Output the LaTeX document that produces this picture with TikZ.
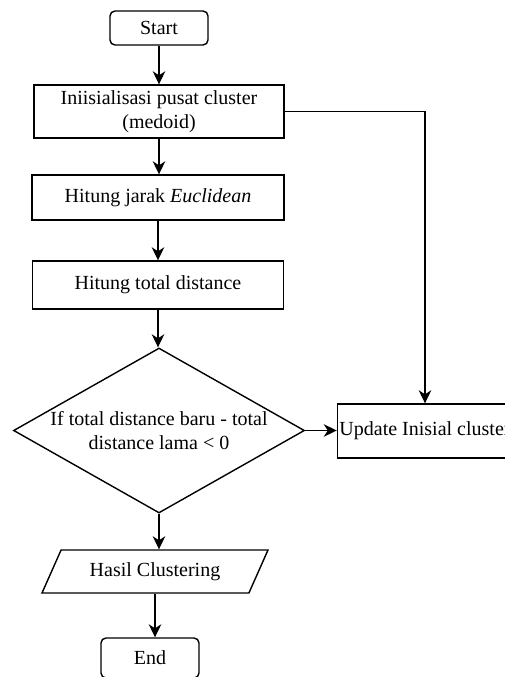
\documentclass[tikz,border=0pt]{standalone}
\usepackage{fontspec}
\setmainfont{Liberation Serif}
\usetikzlibrary{positioning,shapes.geometric,shapes.misc,arrows.meta}

\begin{document}
\begin{tikzpicture}[->,>={Stealth[length=13pt,width=12.5pt,inset=4pt]},x=1pt,y=-1pt,
  line width=1.4pt,
  every node/.style={font=\fontsize{20}{24.5}\selectfont},
  proc node/.style={rectangle,draw,align=center,minimum width=250pt,minimum height=48pt,inner sep=2pt},
  term node/.style={rectangle,rounded corners=5pt,draw,minimum width=98pt,minimum height=34pt},
  cond node/.style={diamond,draw,aspect=1.76,inner sep=0pt,align=center,minimum width=291pt,minimum height=165pt},
  io node/.style={trapezium,draw,trapezium left angle=52.5,trapezium right angle=127.5,
    trapezium stretches body,minimum width=226pt,minimum height=43pt}]

\useasboundingbox (0,0) rectangle (504,677);

\node[term node] (S) at (159,28) {Start};
\node[proc node,minimum height=53pt] (I) at (159,111.5) {Iniisialisasi pusat cluster\\(medoid)};
\node[proc node,minimum width=252pt,minimum height=45pt] (J) at (158,197.5) {Hitung jarak \textit{Euclidean}};
\node[proc node,minimum width=251pt] (T) at (158,285) {Hitung total distance};
\node[cond node] (C) at (159,430.5) {If total distance baru - total\\distance lama < 0};
\node[proc node,minimum width=172pt,minimum height=54pt] (U) at (425,431) {Update Inisial cluster};
\node[io node] (H) at (155,571.5) {Hasil Clustering};
\node[term node,minimum height=40pt] (E) at (150,658) {End};

\draw [->] (S) -- (I);
\draw [->] (I.south) -- (I.south |- J.north);
\draw [->] (J) -- (T);
\draw [->] (T.south) -- (T.south |- C.north);
\draw [->] (C.east) -- (C.east -| U.west);
\draw [->] (I.east) -| (U.north);
\draw [->] (C.south) -- (C.south |- H.north);
\draw [->] (H.south) -- (H.south |- E.north);
\end{tikzpicture}
\end{document}
